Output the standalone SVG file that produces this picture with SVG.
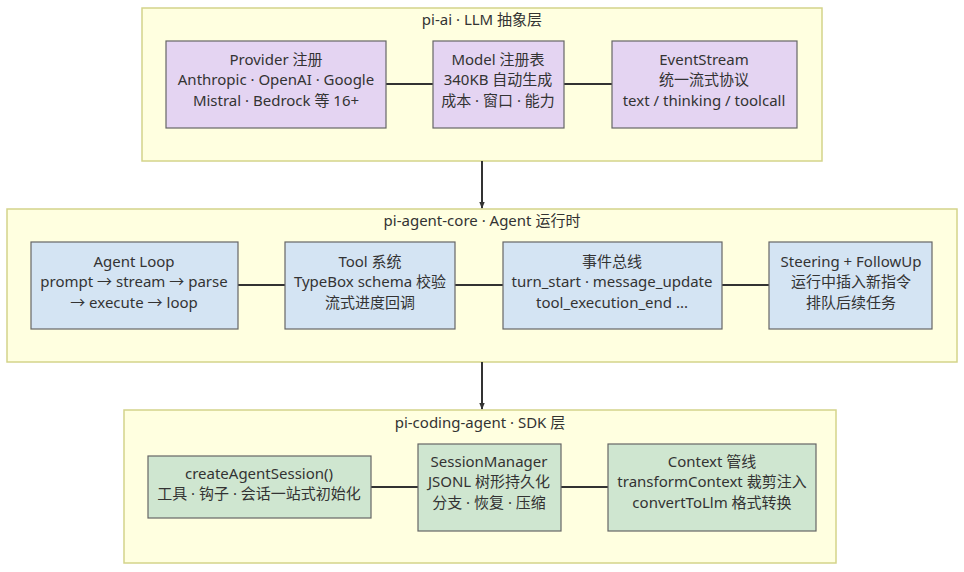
<svg xmlns="http://www.w3.org/2000/svg" width="964" height="572" viewBox="0 0 964 572">
<defs>
<marker id="arr" viewBox="0 0 10 10" refX="9" refY="5" markerWidth="7" markerHeight="7" orient="auto" markerUnits="userSpaceOnUse">
<path d="M0,1 L10,5 L0,9 Z" fill="#333"/>
</marker>
<style>
text{font-family:"Noto Sans","Noto Sans CJK SC",sans-serif;font-size:15px;fill:#333;text-anchor:middle}
.layer{fill:#ffffe0;stroke:#d4d48a;stroke-width:1.5}
.p{fill:#e4d4f2;stroke:#666;stroke-width:1.2}
.b{fill:#d4e4f3;stroke:#666;stroke-width:1.2}
.g{fill:#cfe6d0;stroke:#666;stroke-width:1.2}
.c{stroke:#333;stroke-width:2;fill:none}
</style>
</defs>
<rect width="964" height="572" fill="#fff"/>
<g id="layer-ai"><rect class="layer" x="142" y="8" width="680" height="153"/><text x="482" y="25">pi-ai · LLM 抽象层</text></g>
<g id="layer-core"><rect class="layer" x="7" y="209" width="950" height="153"/><text x="482" y="226">pi-agent-core · Agent 运行时</text></g>
<g id="layer-sdk"><rect class="layer" x="124" y="410" width="712" height="153"/><text x="480" y="428">pi-coding-agent · SDK 层</text></g>
<g id="connectors">
<line class="c" x1="386" y1="84" x2="433" y2="84"/>
<line class="c" x1="564" y1="84" x2="612" y2="84"/>
<line class="c" x1="238" y1="285" x2="285" y2="285"/>
<line class="c" x1="455" y1="285" x2="503" y2="285"/>
<line class="c" x1="722" y1="285" x2="769" y2="285"/>
<line class="c" x1="371" y1="487" x2="418" y2="487"/>
<line class="c" x1="561" y1="487" x2="608" y2="487"/>
<line class="c" x1="482" y1="161" x2="482" y2="208" marker-end="url(#arr)"/>
<line class="c" x1="482" y1="362" x2="482" y2="409" marker-end="url(#arr)"/>
</g>
<g id="provider"><rect class="p" x="166" y="41" width="220" height="87"/><text x="276" y="64.5">Provider 注册</text><text x="276" y="85">Anthropic · OpenAI · Google</text><text x="276" y="105.5">Mistral · Bedrock 等 16+</text></g>
<g id="model"><rect class="p" x="433" y="41" width="131" height="87"/><text x="498" y="64.5">Model 注册表</text><text x="498" y="85">340KB 自动生成</text><text x="498" y="105.5">成本 · 窗口 · 能力</text></g>
<g id="eventstream"><rect class="p" x="612" y="41" width="185" height="87"/><text x="704" y="64.5">EventStream</text><text x="704" y="85">统一流式协议</text><text x="704" y="105.5">text / thinking / toolcall</text></g>
<g id="agentloop"><rect class="b" x="31" y="242" width="207" height="87"/><text x="134" y="266.5">Agent Loop</text><text x="134" y="287">prompt → stream → parse</text><text x="134" y="307.5">→ execute → loop</text></g>
<g id="tool"><rect class="b" x="285" y="242" width="170" height="87"/><text x="370" y="266.5">Tool 系统</text><text x="370" y="287">TypeBox schema 校验</text><text x="370" y="307.5">流式进度回调</text></g>
<g id="eventbus"><rect class="b" x="503" y="242" width="219" height="87"/><text x="612" y="266.5">事件总线</text><text x="612" y="287">turn_start · message_update</text><text x="612" y="307.5">tool_execution_end ...</text></g>
<g id="steering"><rect class="b" x="769" y="242" width="163" height="87"/><text x="851" y="266.5">Steering + FollowUp</text><text x="851" y="287">运行中插入新指令</text><text x="851" y="307.5">排队后续任务</text></g>
<g id="createsession"><rect class="g" x="148" y="456" width="223" height="62"/><text x="259" y="478.5">createAgentSession()</text><text x="259" y="499">工具 · 钩子 · 会话一站式初始化</text></g>
<g id="sessionmgr"><rect class="g" x="418" y="444" width="143" height="87"/><text x="489" y="466.5">SessionManager</text><text x="489" y="487">JSONL 树形持久化</text><text x="489" y="507.5">分支 · 恢复 · 压缩</text></g>
<g id="context"><rect class="g" x="608" y="444" width="208" height="87"/><text x="712" y="466.5">Context 管线</text><text x="712" y="487">transformContext 裁剪注入</text><text x="712" y="507.5">convertToLlm 格式转换</text></g>
</svg>
